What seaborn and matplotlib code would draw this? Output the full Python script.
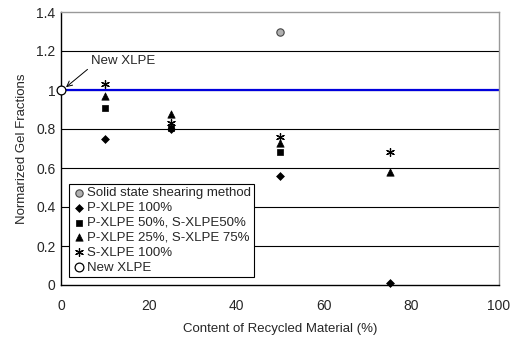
import matplotlib
matplotlib.use("Agg")
import matplotlib.pyplot as plt
import seaborn as sns
import pandas as pd

series = ["Solid state shearing method", "P-XLPE 100%", "P-XLPE 50%, S-XLPE50%",
          "P-XLPE 25%, S-XLPE 75%", "S-XLPE 100%", "New XLPE"]
x_solid = [50]; y_solid = [1.30]
x_p100 = [10, 25, 50, 75]; y_p100 = [0.75, 0.80, 0.56, 0.01]
x_p50 = [10, 25, 50]; y_p50 = [0.91, 0.805, 0.68]
x_p25 = [10, 25, 50, 75]; y_p25 = [0.97, 0.875, 0.73, 0.58]
x_s100 = [10, 25, 50, 75]; y_s100 = [1.03, 0.83, 0.76, 0.68]
x_new = [0]; y_new = [1.0]
xticks = [0, 20, 40, 60, 80, 100]
yticks = [0, 0.2, 0.4, 0.6, 0.8, 1.0, 1.2, 1.4]
ytick_labels = ["0", "0.2", "0.4", "0.6", "0.8", "1", "1.2", "1.4"]

rows = []
for name, xs, ys in zip(series, [x_solid, x_p100, x_p50, x_p25, x_s100, x_new],
                        [y_solid, y_p100, y_p50, y_p25, y_s100, y_new]):
    for a, b in zip(xs, ys):
        rows.append({"x": a, "y": b, "series": name})
df = pd.DataFrame(rows)

sns.set_style("white")
plt.rcParams['font.family'] = ['Liberation Sans', 'DejaVu Sans']

fig = plt.figure(figsize=(5.14, 3.41), dpi=100)
ax = fig.add_axes([61/514, 1-285/341, (499-61)/514, (285-12)/341])

for yv in yticks[1:-1]:
    ax.axhline(yv, color="black", lw=0.8, zorder=0)
ax.axhline(1.0, color="#0000dd", lw=1.6, zorder=1)

asterisk = (6, 2, 0)
styles = {
    "Solid state shearing method": dict(marker="o", facecolor="#b0b0b0", edgecolor="#444444", s=28, lw=0.8),
    "P-XLPE 100%": dict(marker="D", facecolor="black", edgecolor="black", s=16, lw=0.5),
    "P-XLPE 50%, S-XLPE50%": dict(marker="s", facecolor="black", edgecolor="black", s=20, lw=0.5),
    "P-XLPE 25%, S-XLPE 75%": dict(marker="^", facecolor="black", edgecolor="black", s=28, lw=0.5),
    "S-XLPE 100%": dict(marker=asterisk, facecolor="black", edgecolor="black", s=32, lw=0.9),
    "New XLPE": dict(marker="o", facecolor="white", edgecolor="black", s=40, lw=0.9),
}
for name in series:
    sub = df[df["series"] == name]
    st = styles[name]
    sns.scatterplot(data=sub, x="x", y="y", ax=ax, marker=st["marker"], s=st["s"],
                    color=st["facecolor"], edgecolor=st["edgecolor"], linewidth=st["lw"],
                    label=name, zorder=3, clip_on=False)

ax.set_xlim(0, 100)
ax.set_ylim(0, 1.4)
ax.set_xticks(xticks)
ax.set_yticks(yticks)
ax.set_yticklabels(ytick_labels)
ax.tick_params(axis="both", labelsize=10, length=0, pad=4)
ax.tick_params(axis="x", direction="in", length=4, width=0.8, color="black", pad=10)
ax.set_xlabel("Content of Recycled Material (%)", fontsize=9.5, labelpad=7)
ax.set_ylabel("Normarized Gel Fractions", fontsize=9.5, labelpad=6)

for s in ["left", "bottom"]:
    ax.spines[s].set_color("black"); ax.spines[s].set_linewidth(1.0)
for s in ["top", "right"]:
    ax.spines[s].set_color("#999999"); ax.spines[s].set_linewidth(1.0)

ax.annotate("New XLPE", xy=(0.9, 1.01), xytext=(6.8, 1.135), fontsize=9.5,
            arrowprops=dict(arrowstyle="->", color="black", lw=0.7, shrinkA=0, shrinkB=1,
                            relpos=(0, 0)),
            va="baseline", ha="left")

leg = ax.legend(loc="lower left", bbox_to_anchor=(0.012, 0.02), fontsize=9.5, frameon=True,
                fancybox=False, edgecolor="black", borderpad=0.25, handletextpad=0.1,
                labelspacing=0.2, handlelength=1.0, borderaxespad=0.2)
leg.get_frame().set_linewidth(0.8)
leg.get_frame().set_alpha(1)

fig.savefig("out.png", dpi=100)
